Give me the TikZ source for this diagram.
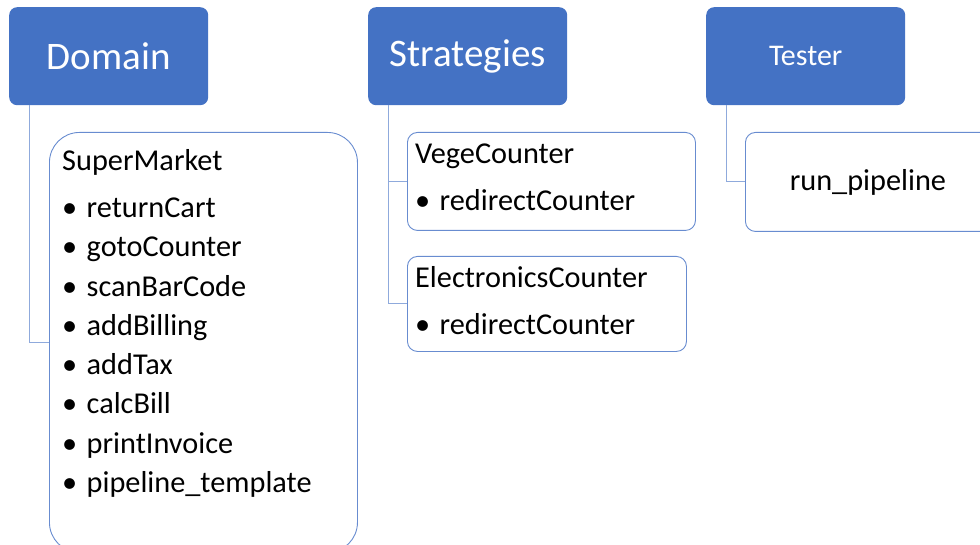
\documentclass[tikz,border=0pt]{standalone}
\usepackage{fontspec}
\setmainfont{Carlito}
\usetikzlibrary{positioning,calc}
\definecolor{accent}{RGB}{68,114,196}
\definecolor{edgeblue}{RGB}{104,140,208}
\definecolor{linkblue}{RGB}{143,170,220}
\newcommand{\itembullet}{\makebox[24.5pt][l]{\textbullet}}

\begin{document}
\begin{tikzpicture}[x=1pt, y=-1pt,
	every node/.style={font=\fontsize{30.3}{39.3}\selectfont},
	header/.style={rectangle, rounded corners=8pt, fill=accent, text=white, minimum width=199pt, minimum height=98pt, inner sep=0pt, anchor=north west},
	leaf/.style={rectangle, rounded corners=10pt, draw=edgeblue, line width=0.9pt, fill=white, inner sep=0pt, anchor=north west},
	listtext/.style={anchor=base west, inner sep=0pt},
	link/.style={draw=linkblue, line width=1pt}]

	\useasboundingbox (0,0) rectangle (980,545);
	\clip (0,0) rectangle (980,545);

	% headers
	\node[header, shift = {(9,7)}, font=\fontsize{39}{45}\selectfont] (domain) {Domain};
	\node[header, shift = {(368,7)}, font=\fontsize{39}{45}\selectfont] (strat) {Strategies};
	\node[header, shift = {(706,7)}, font=\fontsize{30}{36}\selectfont] (tester) {Tester};

	% Domain
	\node[leaf, rounded corners=30pt, shift = {(49,132)}, minimum width=308pt, minimum height=420pt] (market) {};
	\node[listtext] (market_txt) at ($(market.north west)+(13,38.5)$) {
		\begin{tabular}[t]{@{}l@{}}
			SuperMarket\\[7.7pt]
			\itembullet returnCart\\
			\itembullet gotoCounter\\
			\itembullet scanBarCode\\
			\itembullet addBilling\\
			\itembullet addTax\\
			\itembullet calcBill\\
			\itembullet printInvoice\\
			\itembullet pipeline\_template
		\end{tabular}
	};

	% Strategies
	\node[leaf, shift = {(407,132)}, minimum width=288pt, minimum height=98pt] (vege) {};
	\node[listtext] (vege_txt) at ($(vege.north west)+(8,32)$) {
		\begin{tabular}[t]{@{}l@{}}
			VegeCounter\\[6.8pt]
			\itembullet redirectCounter
		\end{tabular}
	};

	\node[leaf, shift = {(407,256)}, minimum width=279pt, minimum height=95pt] (elec) {};
	\node[listtext] (elec_txt) at ($(elec.north west)+(8,32)$) {
		\begin{tabular}[t]{@{}l@{}}
			ElectronicsCounter\\[7.7pt]
			\itembullet redirectCounter
		\end{tabular}
	};

	% Tester
	\node[leaf, shift = {(745,132)}, minimum width=245pt, minimum height=99pt] (runpipe) {run\_pipeline};

	% connectors
	\draw[link] ($(domain.south west)+(20,0)$) |- (market.west);
	\draw[link] ($(strat.south west)+(20,0)$) |- (vege.west);
	\draw[link] ($(strat.south west)+(20,0)$) |- (elec.west);
	\draw[link] ($(tester.south west)+(20,0)$) |- (runpipe.west);
\end{tikzpicture}
\end{document}
